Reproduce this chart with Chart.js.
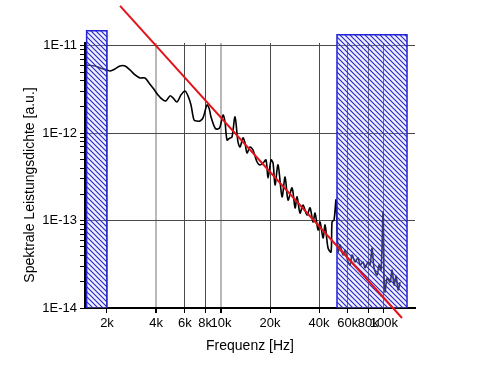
<!DOCTYPE html>
<html>
<head>
<meta charset="utf-8">
<script src="https://cdn.jsdelivr.net/npm/chart.js@4"></script>
<style>
  html, body { margin: 0; padding: 0; background: #fff; }
  #chart { display: block; }
</style>
</head>
<body>
<canvas id="chart" width="480" height="370"></canvas>
<script>
// measured spectrum (Hz, a.u.)
const freqHz = [
  1486, 1688, 1812, 2000, 2087, 2239, 2404, 2579, 2768, 2971,
  3188, 3421, 3620, 3830, 4111, 4413, 4603, 4870, 5081, 5377,
  5689, 6018, 6279, 6551, 6835, 7133, 7441, 7762, 8213, 8449,
  8691, 9196, 9594, 9871, 10300, 10590, 10900, 11360, 11690, 12200,
  12720, 13090, 13660, 14050, 14450, 15080, 15730, 16650, 17370, 18120,
  18900, 19450, 20290, 20870, 21470, 22400, 23710, 24740, 25800, 27300,
  28490, 29300, 30560, 31880, 33740, 35200, 36720, 37780, 39410, 40540,
  42300, 43510, 45390, 47360, 48030, 49410, 50820, 52280, 53780, 56110,
  57720, 60220, 61950, 63730, 66490, 69360, 71350, 74440, 76570, 79880,
  82170, 84530, 86970, 90730, 93330, 96010, 98760, 100200, 101600, 104500,
  109000, 112200, 115400, 118700, 122100, 125600
];
const psd = [
  6.06e-12, 5.90e-12, 5.60e-12, 5.31e-12, 5.17e-12, 5.45e-12, 5.90e-12, 5.90e-12, 5.31e-12, 4.65e-12,
  4.30e-12, 4.30e-12, 3.77e-12, 3.30e-12, 2.75e-12, 2.41e-12, 2.35e-12, 2.68e-12, 2.54e-12, 2.28e-12,
  2.75e-12, 3.05e-12, 2.68e-12, 2.11e-12, 1.42e-12, 1.38e-12, 1.38e-12, 1.50e-12, 2.11e-12, 1.95e-12,
  1.54e-12, 1.15e-12, 1.12e-12, 1.18e-12, 1.62e-12, 1.35e-12, 8.39e-13, 8.84e-13, 9.08e-13, 1.54e-12,
  7.96e-13, 6.97e-13, 8.84e-13, 7.75e-13, 5.95e-13, 6.97e-13, 6.44e-13, 4.69e-13, 4.34e-13, 4.57e-13,
  4.95e-13, 3.08e-13, 4.95e-13, 4.57e-13, 2.56e-13, 4.34e-13, 1.87e-13, 3.16e-13, 1.72e-13, 2.37e-13,
  1.40e-13, 1.87e-13, 1.22e-13, 1.51e-13, 1.16e-13, 1.40e-13, 9.65e-14, 1.22e-13, 7.82e-14, 9.65e-14,
  6.33e-14, 8.92e-14, 4.86e-14, 4.38e-14, 9.65e-14, 1.02e-13, 1.72e-13, 4.38e-14, 5.26e-14, 4.04e-14,
  4.61e-14, 3.36e-14, 3.11e-14, 4.04e-14, 3.36e-14, 3.74e-14, 3.11e-14, 3.36e-14, 2.87e-14, 3.36e-14,
  3.11e-14, 4.86e-14, 2.87e-14, 2.39e-14, 3.11e-14, 2.72e-14, 1.26e-13, 2.09e-14, 1.52e-14, 2.20e-14,
  1.98e-14, 2.72e-14, 1.83e-14, 2.32e-14, 1.61e-14, 1.98e-14
];

// power-law fit (red line), end points
const fitFreq = [2404, 129000];
const fitPsd = [2.87e-11, 7.68e-15];

// excluded frequency bands (hatched)
const bandStart = [1500, 51500];
const bandEnd = [2000, 138500];
const bandTop = [1.49e-11, 1.34e-11];

// axes
const xMin = 1466, xMax = 155000;
const yMin = 1e-14, yMax = 1.08e-11;
const xTicks = [2000, 4000, 6000, 8000, 10000, 20000, 40000, 60000, 80000, 100000];
const xTickLabels = ['2k', '4k', '6k', '8k', '10k', '20k', '40k', '60k', '80k', '100k'];
const yTicks = [1e-14, 1e-13, 1e-12, 1e-11];
const yTickLabels = ['1E-14', '1E-13', '1E-12', '1E-11'];
const yMinorSteps = [2, 3, 4, 5, 6, 7, 8, 9];

const FONT = "'Liberation Sans', Arial, sans-serif";
const softGrid = [4000, 10000];   // these render as blurred light lines in the original

function hatchTile() {
  const n = 5;
  const c = document.createElement('canvas');
  c.width = n; c.height = n;
  const g = c.getContext('2d');
  g.fillStyle = 'rgba(205,205,255,0.3)';
  g.fillRect(0, 0, n, n);
  g.strokeStyle = '#2424cc';
  g.lineWidth = 1.1;
  g.beginPath();
  for (const o of [-n, 0, n]) { g.moveTo(o - 1, -1); g.lineTo(o + n + 1, n + 1); }
  g.stroke();
  return c;
}

// hatched bands go over the spectrum but under the fit line
const bandPlugin = {
  id: 'bands',
  afterDatasetDraw(chart, args) {
    if (args.index !== 0) return;
    const {ctx, scales: {x, y}} = chart;
    const pat = ctx.createPattern(hatchTile(), 'repeat');
    ctx.save();
    bandStart.forEach((s, i) => {
      const l = x.getPixelForValue(s), r = x.getPixelForValue(bandEnd[i]);
      const t = y.getPixelForValue(bandTop[i]), b = y.getPixelForValue(yMin);
      ctx.fillStyle = pat;
      ctx.fillRect(l, t, r - l, b - t);
      ctx.strokeStyle = '#2323d8';
      ctx.lineWidth = 1.5;
      ctx.beginPath();
      ctx.moveTo(l, b); ctx.lineTo(l, t); ctx.lineTo(r, t); ctx.lineTo(r, b);
      ctx.stroke();
    });
    ctx.restore();
  }
};

const yTitlePlugin = {
  id: 'yTitle',
  afterDraw(chart) {
    const ctx = chart.ctx;
    ctx.save();
    ctx.translate(30, 185);
    ctx.rotate(-Math.PI / 2);
    ctx.font = '14px ' + FONT;
    ctx.fillStyle = '#000';
    ctx.textAlign = 'center';
    ctx.textBaseline = 'middle';
    ctx.fillText('Spektrale Leistungsdichte [a.u.]', 0, 0);
    ctx.restore();
  }
};

Chart.defaults.font.family = FONT;
Chart.defaults.font.size = 13;
Chart.defaults.color = '#000';

new Chart(document.getElementById('chart'), {
  type: 'line',
  data: {
    datasets: [{
      data: freqHz.map((f, i) => ({x: f, y: psd[i]})),
      borderColor: '#000',
      borderWidth: 1.6,
      pointRadius: 0,
      tension: 0.3,
      order: 2,
    }, {
      data: fitFreq.map((f, i) => ({x: f, y: fitPsd[i]})),
      borderColor: '#e3121a',
      borderWidth: 2,
      pointRadius: 0,
      clip: false,
      order: 1,
    }],
  },
  options: {
    responsive: false,
    animation: false,
    layout: { padding: { top: 43, right: 65, left: 0, bottom: 0 } },
    plugins: { legend: { display: false }, tooltip: { enabled: false } },
    scales: {
      x: {
        type: 'logarithmic',
        min: xMin, max: xMax,
        afterFit: s => { s.height = 62; },
        afterBuildTicks: s => { s.ticks = xTicks.map(v => ({value: v})); },
        ticks: {
          autoSkip: false, maxRotation: 0, padding: 3,
          callback: v => { const i = xTicks.indexOf(v); return i >= 0 ? xTickLabels[i] : ''; },
        },
        grid: {
          color: c => softGrid.includes(c.tick && c.tick.value) ? '#b8b8b8' : '#4a4a4a',
          lineWidth: c => softGrid.includes(c.tick && c.tick.value) ? 2 : 1,
          tickColor: '#000', tickLength: 5,
        },
        border: { color: '#000', width: 2 },
        title: { display: true, text: 'Frequenz [Hz]', font: { size: 14 }, padding: { top: 0, bottom: 15 } },
      },
      y: {
        type: 'logarithmic',
        min: yMin, max: yMax,
        afterFit: s => { s.width = 85; },
        afterBuildTicks: s => {
          const t = [];
          yTicks.forEach(v => {
            t.push({value: v, major: true});
            if (v < yMax / 2) yMinorSteps.forEach(k => t.push({value: v * k}));
          });
          s.ticks = t.filter(o => o.value <= yMax).sort((a, b) => a.value - b.value);
        },
        ticks: {
          autoSkip: false, padding: 3,
          callback: v => { const i = yTicks.indexOf(v); return i >= 0 ? yTickLabels[i] : ''; },
        },
        grid: {
          color: c => c.tick && yTicks.includes(c.tick.value) ? '#4a4a4a' : 'rgba(0,0,0,0)',
          tickColor: '#000', tickLength: 5,
        },
        border: { color: '#000', width: 2 },
      },
    },
  },
  plugins: [bandPlugin, yTitlePlugin],
});
</script>
</body>
</html>
